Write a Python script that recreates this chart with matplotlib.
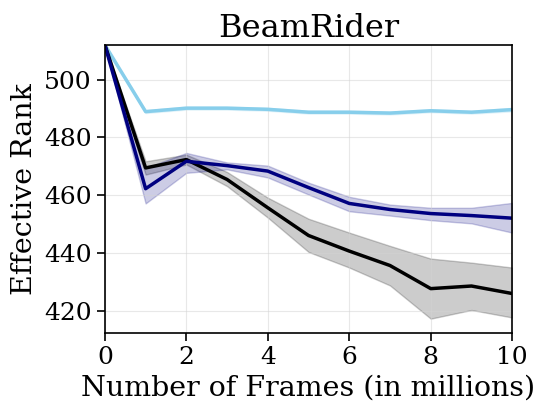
import matplotlib
matplotlib.use("Agg")
import matplotlib.pyplot as plt
import numpy as np

plt.rcParams['font.family'] = 'DejaVu Serif'

frames = [0, 1, 2, 3, 4, 5, 6, 7, 8, 9, 10]

sky_mean = [512, 488.9, 490.1, 490.1, 489.7, 488.7, 488.7, 488.4, 489.2, 488.7, 489.6]
sky_lo = [511.5, 488.4, 489.6, 489.6, 489.2, 488.2, 488.2, 487.9, 488.7, 488.2, 489.0]
sky_hi = [512, 489.4, 490.6, 490.6, 490.2, 489.2, 489.2, 488.9, 489.7, 489.2, 490.2]

black_mean = [512, 469.4, 472.3, 465.4, 455.6, 446.0, 440.6, 435.6, 427.6, 428.5, 425.9]
black_lo = [511.5, 467.1, 470.6, 463.1, 452.2, 440.3, 434.9, 428.7, 417.2, 420.2, 417.6]
black_hi = [512, 471.7, 474.0, 468.0, 459.1, 451.8, 447.0, 442.4, 438.0, 436.6, 434.9]

navy_mean = [512, 462.2, 471.7, 470.2, 468.3, 462.6, 457.1, 455.0, 453.6, 452.9, 452.0]
navy_lo = [511.5, 457.1, 467.7, 468.9, 466.1, 460.2, 454.4, 452.9, 451.3, 450.2, 447.0]
navy_hi = [512, 469.4, 474.6, 471.3, 470.2, 464.3, 459.4, 456.7, 455.6, 455.6, 457.3]

fig, ax = plt.subplots(figsize=(5.49, 4.16), dpi=100)

series = [
    (sky_mean, sky_lo, sky_hi, 'skyblue'),
    (black_mean, black_lo, black_hi, 'black'),
    (navy_mean, navy_lo, navy_hi, 'navy'),
]
for mean, lo, hi, c in series:
    ax.fill_between(frames, lo, hi, color=c, alpha=0.2)
    ax.plot(frames, mean, color=c, lw=2.5)

ax.set_xlim(0, 10)
ax.set_ylim(412.3, 512)
ax.set_xticks([0, 2, 4, 6, 8, 10])
ax.set_yticks([420, 440, 460, 480, 500])
ax.grid(True, color='lightgray', alpha=0.5)
ax.tick_params(labelsize=18, width=1.2, length=6)
for s in ax.spines.values():
    s.set_linewidth(1.2)

ax.set_title("BeamRider", fontsize=23)
ax.set_xlabel("Number of Frames (in millions)", fontsize=20.5)
ax.set_ylabel("Effective Rank", fontsize=20.5)

plt.subplots_adjust(left=0.191, right=0.933, top=0.892, bottom=0.2)
plt.savefig("out.png")
